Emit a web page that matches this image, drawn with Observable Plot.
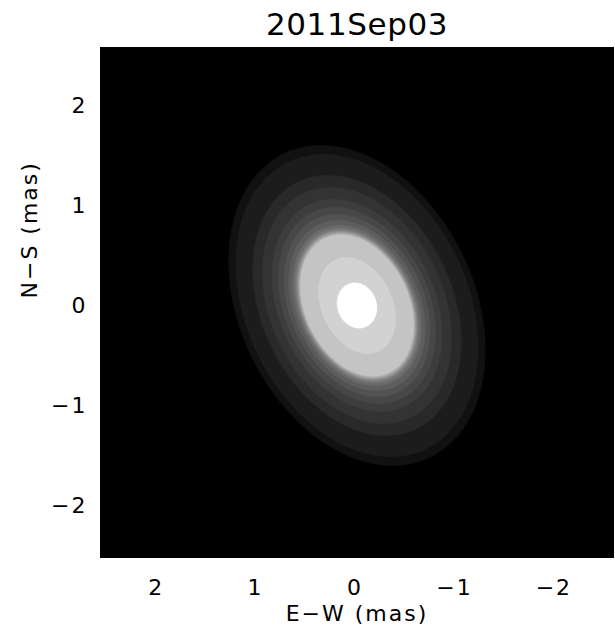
<!DOCTYPE html>
<html>
<head>
<meta charset="utf-8">
<script src="https://cdn.jsdelivr.net/npm/d3@7"></script>
<script src="https://cdn.jsdelivr.net/npm/@observablehq/plot@0.6"></script>
<style>
  html, body { margin: 0; padding: 0; background: #fff; }
</style>
</head>
<body>
<div id="chart"></div>
<script>
// --- data ---
const title = "2011Sep03";
const xLabel = "E\u2212W (mas)";
const yLabel = "N\u2212S (mas)";
const xTicks = [2, 1, 0, -1, -2];
const yTicks = [2, 1, 0, -1, -2];
const xDomain = [2.56, -2.6];
const yDomain = [-2.52, 2.58];

// contour levels, outermost first: semi-major / semi-minor axes (mas),
// position angle of major axis (deg from north towards east), grey level
const levelSemiMajor = [1.686, 1.592, 1.370, 1.244, 1.117, 1.033, 0.959, 0.896, 0.843, 0.812, 0.790, 0.775, 0.760, 0.745, 0.506, 0.230];
const levelSemiMinor = [1.177, 1.111, 0.956, 0.868, 0.780, 0.721, 0.669, 0.625, 0.588, 0.567, 0.551, 0.541, 0.530, 0.520, 0.353, 0.195];
const levelAngle     = [26, 26, 26, 26, 26, 26, 26, 26, 26, 26, 26, 26, 26, 26, 26, 20];
const levelGray = ["#111111", "#1c1c1c", "#292929", "#333333", "#3d3d3d", "#474747", "#525252",
                   "#5e5e5e", "#6b6b6b", "#787878", "#888888", "#9a9a9a", "#acacac", "#c4c4c4", "#d2d2d2", "#ffffff"];
const centerX = -0.02;
const centerY = 0.0;

// build outline points for each level (geometry of the ellipse)
function outline(i) {
  const a = levelSemiMajor[i], b = levelSemiMinor[i];
  const th = levelAngle[i] * Math.PI / 180;
  const ux = Math.sin(th), uy = Math.cos(th);   // major axis direction (E, N)
  const vx = Math.cos(th), vy = -Math.sin(th);  // minor axis direction
  const n = 180, pts = [];
  for (let k = 0; k < n; k++) {
    const t = 2 * Math.PI * k / n;
    const p = a * Math.cos(t), q = b * Math.sin(t);
    pts.push({x: centerX + p * ux + q * vx, y: centerY + p * uy + q * vy});
  }
  return pts;
}

const fmt = d => d < 0 ? "\u2212" + Math.abs(d) : String(d);
const font = "'DejaVu Sans', sans-serif";

const plot = Plot.plot({
  width: 615,
  height: 642,
  marginLeft: 100,
  marginRight: 2,
  marginTop: 47,
  marginBottom: 85,
  style: {fontFamily: font, fontSize: "22px", background: "#fff", color: "#000", letterSpacing: "2px"},
  x: {domain: xDomain, label: null},
  y: {domain: yDomain, label: null},
  marks: [
    Plot.frame({fill: "black", stroke: "black"}),
    ...levelGray.map((g, i) =>
      Plot.line(outline(i), {x: "x", y: "y", fill: g, stroke: g, strokeWidth: 0.6, curve: "linear-closed"})
    ),
    Plot.axisX({ticks: xTicks, tickSize: 0, tickPadding: 22, tickFormat: fmt, label: null, fontSize: 22}),
    Plot.axisY({ticks: yTicks, tickSize: 0, tickPadding: 13, tickFormat: fmt, label: null, fontSize: 22}),
    Plot.text([xLabel], {frameAnchor: "bottom", dy: 56, text: d => d, fontSize: 22, lineAnchor: "middle"}),
    Plot.text([yLabel], {frameAnchor: "left", dx: -71, dy: -4, text: d => d, rotate: -90, fontSize: 22, lineAnchor: "middle"}),
    Plot.text([title], {frameAnchor: "top", dy: -22, text: d => d, fontSize: 31, lineAnchor: "middle"})
  ]
});
// title letter spacing is a bit tighter than the axis texts
d3.select(plot).selectAll("text").filter(function () { return this.textContent === title; })
  .style("letter-spacing", "0.6px");
document.getElementById("chart").appendChild(plot);
</script>
</body>
</html>
